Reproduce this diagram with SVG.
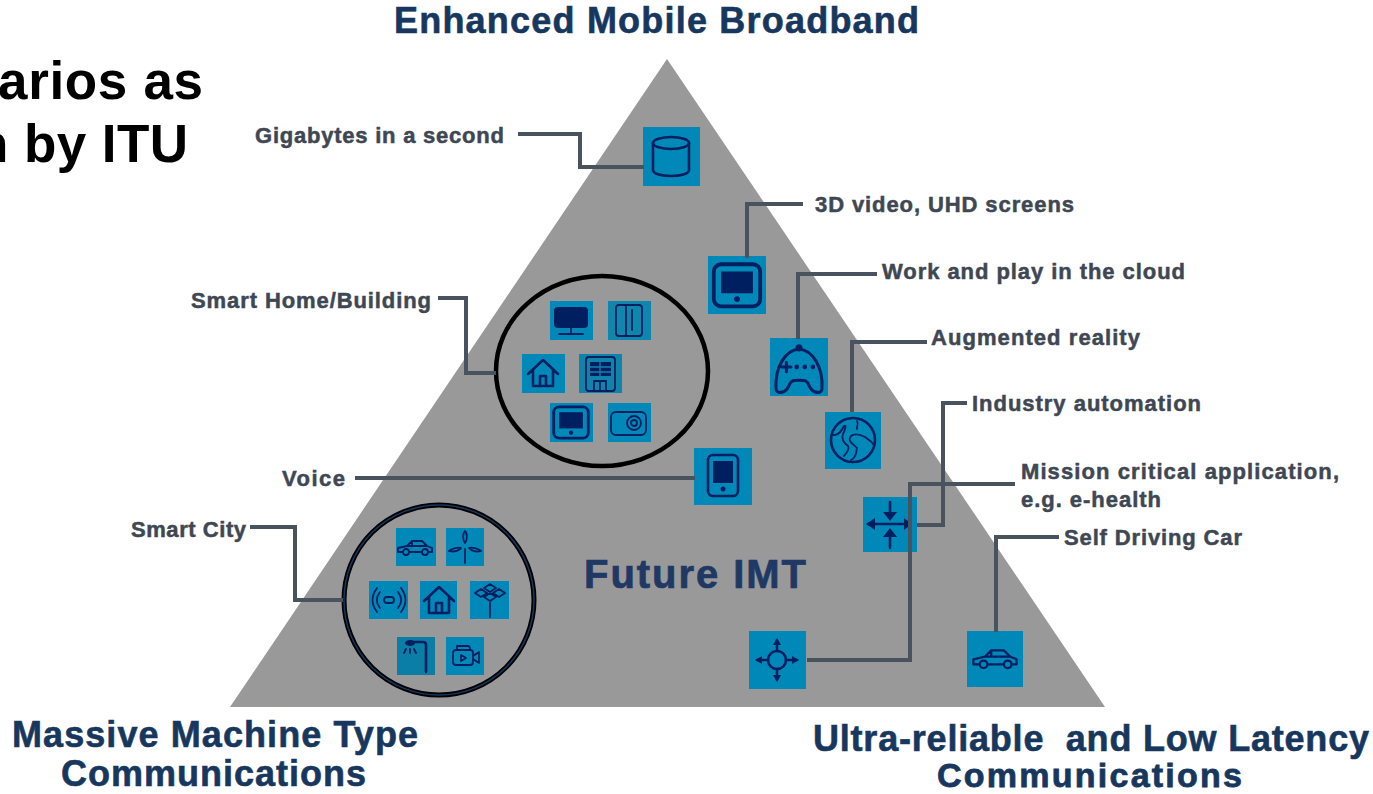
<svg xmlns="http://www.w3.org/2000/svg" width="1373" height="794" viewBox="0 0 1373 794">
<style>
text{font-family:"Liberation Sans",Arial,sans-serif;font-weight:700}
.h{font-size:36px;fill:#17375e;stroke:#17375e;stroke-width:.6}
.h2{font-size:34px;fill:#17375e;stroke:#17375e;stroke-width:.8}
.l{font-size:22px;fill:#3e4753;stroke:#3e4753;stroke-width:.5}
.t{font-size:53px;fill:#000}
.c{fill:none;stroke:#48535d;stroke-width:4}
.b{fill:#0089b8}
.i{fill:none;stroke:#001f60;stroke-width:2.6;stroke-linejoin:round;stroke-linecap:round}
.s{stroke-width:1.8}
.f{fill:#001f60;stroke:none}
.r{fill:none;stroke:#000;stroke-width:4.5}
</style>
<defs>
<g id="home"><path class="i" d="M-15 1 0-13 15 1M-10-3V13H10V-3M-3 13V3H3V13"/></g>
<g id="car"><path class="i s" d="M-17 5V1L-8-1-3-6H7L12-1 17 1V5H-17ZM-3-6V-1M-8-1H12"/><circle class="i s" cx="-9" cy="5" r="3" style="fill:#0089b8"/><circle class="i s" cx="10" cy="5" r="3" style="fill:#0089b8"/></g>
<g id="tablet"><rect class="i" x="-16" y="-15" width="32" height="29" rx="5"/><rect class="f" x="-11" y="-10" width="22" height="15"/><circle class="f" cx="0" cy="9" r="2"/></g>
</defs>
<rect width="1373" height="794" fill="#fff"/>
<path id="pyramid" d="M667 59 1105 707H230Z" fill="#999"/>

<g id="title">
<text class="t" x="-2" y="99" textLength="205">arios as</text>
<text class="t" x="-24" y="162" textLength="212">n by ITU</text>
</g>

<g id="heading-embb"><text class="h" x="394" y="33" textLength="525">Enhanced Mobile Broadband</text></g>
<g id="heading-mmtc">
<text class="h" x="12" y="747" textLength="406">Massive Machine Type</text>
<text class="h" x="61" y="786" textLength="305">Communications</text>
</g>
<g id="heading-urllc">
<text class="h" x="813" y="751" textLength="556" xml:space="preserve">Ultra-reliable  and Low Latency</text>
<text class="h2" x="937" y="786.5" textLength="305">Communications</text>
</g>
<g id="heading-imt"><text x="584" y="588" font-size="40" fill="#1f3864" stroke="#1f3864" stroke-width=".7" textLength="222">Future IMT</text></g>

<g id="label-gigabytes"><text class="l" x="255" y="143" textLength="249">Gigabytes in a second</text></g>
<g id="label-3d"><text class="l" x="815" y="212" textLength="259">3D video, UHD screens</text></g>
<g id="label-cloud"><text class="l" x="882" y="279" textLength="303">Work and play in the cloud</text></g>
<g id="label-ar"><text class="l" x="931" y="345" textLength="209">Augmented reality</text></g>
<g id="label-industry"><text class="l" x="972" y="411" textLength="229">Industry automation</text></g>
<g id="label-mission">
<text class="l" x="1021" y="479" textLength="318">Mission critical application,</text>
<text class="l" x="1021" y="507" textLength="140">e.g. e-health</text>
</g>
<g id="label-car"><text class="l" x="1064" y="545" textLength="178">Self Driving Car</text></g>
<g id="label-home"><text class="l" x="191" y="308" textLength="240">Smart Home/Building</text></g>
<g id="label-voice"><text class="l" x="282" y="486" textLength="63">Voice</text></g>
<g id="label-city"><text class="l" x="131" y="537" textLength="115">Smart City</text></g>

<g id="node-database" transform="translate(671 156)"><rect class="b" x="-28" y="-29" width="57" height="59"/><ellipse class="i" cx="0" cy="-13" rx="18" ry="6"/><path class="i" d="M-18-13V14C-18 22 18 22 18 14V-13"/></g>
<g id="node-tablet" transform="translate(737 285)"><rect class="b" x="-29" y="-29" width="58" height="58"/><use href="#tablet" transform="translate(0 1) scale(1.45)"/></g>
<g id="node-game" transform="translate(799 367)"><rect class="b" x="-29" y="-29" width="58" height="58"/><g transform="scale(1.15 1.2)"><path class="i" d="M-20 18C-21 0-12-14 0-15 12-14 21 0 20 18 20 23 12 22 9 16 7 11 5 11 0 11-5 11-7 11-9 16-12 22-20 23-20 18Z"/><circle class="f" cx="0" cy="-16" r="3"/><path class="i" d="M-15 0H-7M-11-4V4"/><circle class="f" cx="-2" cy="0" r="2"/><circle class="f" cx="5" cy="0" r="2"/><circle class="f" cx="12" cy="0" r="2"/></g></g>
<g id="node-globe" transform="translate(853 440)"><rect class="b" x="-28" y="-28" width="56" height="57"/><circle class="i" cx="0" cy="0" r="22"/><path class="i s" d="M-20-5C-14-4-11-10-9-14-6-16-8-10-10-6-12-1-9 3-5 6-3 10-7 13-9 16M-2 20C4 17 3 12 4 8 0 4-6 1-2-4 2-7 8-5 12-3 16 0 19 2 20 4M4-19C6-15 3-13 4-11"/></g>
<g id="node-voice" transform="translate(723 476)"><rect class="b" x="-29" y="-28" width="58" height="57"/><rect class="i" x="-15" y="-21" width="30" height="41" rx="5"/><rect class="f" x="-10" y="-15" width="20" height="22"/><circle class="f" cx="0" cy="13" r="2.5"/></g>
<g id="node-arrows-in" transform="translate(890 524)"><rect class="b" x="-27" y="-27" width="54" height="55"/><path class="i" stroke-width="3" d="M0-22V-7M0 24V8M-22 0H19"/><path class="f" d="M0-3-7-12H7ZM0 4-7 13H7ZM-24 0-15-6V6ZM22 0 14-6V6Z"/></g>
<g id="node-arrows-out" transform="translate(777 660)"><rect class="b" x="-28" y="-29" width="57" height="58"/><circle class="i" cx="0" cy="0" r="9"/><path class="i" d="M0-9V-20M-9 0H-20M9 0H20M0 9V20"/><path class="f" d="M0-22-4-15H4ZM0 22-4 15H4ZM-22 0-15-4V4ZM22 0 15-4V4Z"/></g>
<g id="node-car" transform="translate(995 659)"><rect class="b" x="-28" y="-28" width="56" height="56"/><use href="#car" transform="translate(0 -1) scale(1.27)"/></g>

<g id="node-smart-home">
<ellipse class="r" cx="602" cy="371" rx="106" ry="95"/>
<g transform="translate(571 320)"><rect class="b" x="-21" y="-19" width="43" height="39"/><rect x="-17" y="-13" width="34" height="21" rx="4" fill="#001f60"/><path class="i s" d="M0 8V13M-12 14H12"/></g>
<g transform="translate(629 320)"><rect class="b" x="-21" y="-19" width="43" height="39" style="fill:#0f86ad"/><rect class="i s" x="-13" y="-15" width="26" height="31" rx="3"/><path class="i s" d="M-3-15V16M3-10V10"/></g>
<g transform="translate(543 373)"><rect class="b" x="-21" y="-19" width="43" height="39"/><use href="#home"/></g>
<g transform="translate(600 373)"><rect class="b" x="-21" y="-19" width="43" height="39" style="fill:#1083aa"/><rect class="i s" x="-14" y="-16" width="29" height="34" rx="3"/><rect class="f" x="-10" y="-11" width="21" height="14"/><path d="M-10-6H11M-10-1H11M0-11V3" stroke="#1083aa" stroke-width="1.3"/><path class="i s" d="M-6 18V8H6V18M0 8V18"/></g>
<g transform="translate(571 423)"><rect class="b" x="-21" y="-20" width="43" height="39"/><use href="#tablet" transform="scale(1.08)"/></g>
<g transform="translate(629 423)"><rect class="b" x="-21" y="-20" width="43" height="39"/><rect class="i s" x="-18" y="-11" width="35" height="23" rx="5"/><circle class="i s" cx="5" cy="0" r="7"/><circle class="i s" cx="5" cy="0" r="3"/></g>
</g>

<g id="node-smart-city">
<circle cx="439" cy="600" r="95" fill="none" stroke="#000" stroke-width="5"/>
<circle cx="439" cy="600" r="95" fill="none" stroke="#17375e" stroke-width="1.5"/>
<g transform="translate(415 547)"><rect class="b" x="-19" y="-19" width="40" height="38"/><use href="#car"/></g>
<g transform="translate(465 547)"><rect class="b" x="-19" y="-19" width="38" height="38"/><path class="i s" d="M0 2V16M0-4C-3-8-2-14 0-16 2-14 3-8 0-4ZM-4 1C-8 0-14 2-16 4-12 5-7 4-4 1ZM4 1C8 0 14 2 16 4 12 5 7 4 4 1Z"/></g>
<g transform="translate(389 600)"><rect class="b" x="-20" y="-19" width="39" height="38"/><rect class="i s" x="-5" y="-3" width="10" height="6" rx="3"/><path class="i s" d="M-9-8C-13-3-13 3-9 8M9-8C13-3 13 3 9 8M-12-12C-18-4-18 4-12 12M12-12C18-4 18 4 12 12"/></g>
<g transform="translate(439 600)"><rect class="b" x="-19" y="-19" width="37" height="38"/><use href="#home"/></g>
<g transform="translate(490 600)"><rect class="b" x="-20" y="-19" width="39" height="38"/><path class="i s" d="M0-16 6-12 0-8-6-12ZM-9-11-3-7-9-3-15-7ZM9-11 15-7 9-3 3-7ZM0-7 6-3 0 1-6-3ZM0 3V17"/></g>
<g transform="translate(416 656)"><rect class="b" x="-19" y="-19" width="38" height="38" style="fill:#0a7ea6"/><path class="i" d="M-6-14H7Q10-14 10-11V16" stroke-width="3"/><ellipse class="f" cx="-6" cy="-13" rx="5" ry="3"/><path class="i s" d="M-10-7-12-3M-6-7V-3M-2-7 0-3"/></g>
<g transform="translate(465 656)"><rect class="b" x="-19" y="-19" width="38" height="38"/><rect class="i s" x="-12" y="-6" width="20" height="15" rx="3"/><path class="i s" d="M-8-6V-10H3Q5-10 5-6M8 0 14-4V7L8 3M-4-1V5L1 2Z"/></g>
</g>

<g id="connectors">
<path class="c" d="M518 134H580V167H644"/>
<path class="c" d="M747 258V204H803"/>
<path class="c" d="M798 339V274H877"/>
<path class="c" d="M852 412V342H927"/>
<path class="c" d="M917 525H943V403H967"/>
<path class="c" d="M807 660H910V484H1015"/>
<path class="c" d="M996 632V537H1059"/>
<path class="c" d="M438 298H466V373H496"/>
<path class="c" d="M355 478H695"/>
<path class="c" d="M250 527H295V600H343"/>
</g>
</svg>
